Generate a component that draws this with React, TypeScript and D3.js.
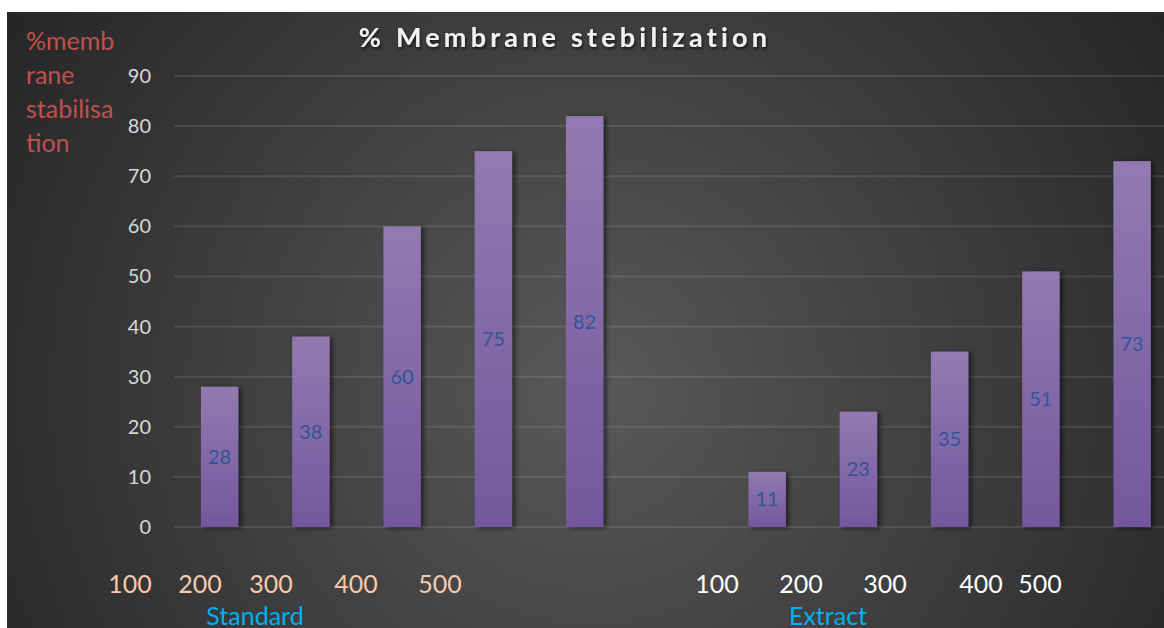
import React, { useEffect, useRef } from "react";
import * as d3 from "d3";

// chart values
const categories = ["S100", "S200", "S300", "S400", "S500", "gap", "E100", "E200", "E300", "E400", "E500"];
const standardValues = [28, 38, 60, 75, 82];
const extractValues = [11, 23, 35, 51, 73];
const yTicks = [0, 10, 20, 30, 40, 50, 60, 70, 80, 90];
const doseLabels = ["100", "200", "300", "400", "500"];
const groupLabels = ["Standard", "Extract"];
const yTitleLines = ["%memb", "rane", "stabilisa", "tion"];
const title = "% Membrane stebilization";

// where the loose text boxes sit under the plot (layout only)
const standardLabelX = [130, 200, 271, 356, 440];
const extractLabelX = [717, 801, 885, 981, 1040];
const groupLabelX = [255, 828];

const W = 1164;
const H = 628;
const FONT = "Lato, 'Open Sans', sans-serif";

const App = () => {
  const ref = useRef<SVGSVGElement>(null);

  useEffect(() => {
    const svg = d3.select(ref.current);
    svg.selectAll("*").remove();

    const left = 174;
    const step = 91.25;

    const x = d3
      .scaleBand()
      .domain(categories)
      .range([left, left + step * categories.length])
      .paddingInner(0.59)
      .paddingOuter(0.295);

    const y = d3.scaleLinear().domain([0, 90]).range([527, 76]);

    const defs = svg.append("defs");

    const bg = defs
      .append("radialGradient")
      .attr("id", "bg")
      .attr("gradientUnits", "userSpaceOnUse")
      .attr("cx", 590)
      .attr("cy", 390)
      .attr("r", 720);
    bg.append("stop").attr("offset", "0%").attr("stop-color", "#595959");
    bg.append("stop").attr("offset", "100%").attr("stop-color", "#242424");

    const barGrad = defs
      .append("linearGradient")
      .attr("id", "bar")
      .attr("x1", "0%")
      .attr("x2", "0%")
      .attr("y1", "0%")
      .attr("y2", "100%");
    barGrad.append("stop").attr("offset", "0%").attr("stop-color", "#927AB1");
    barGrad.append("stop").attr("offset", "100%").attr("stop-color", "#74579D");

    const shadow = defs
      .append("filter")
      .attr("id", "shadow")
      .attr("x", "-30%")
      .attr("y", "-10%")
      .attr("width", "160%")
      .attr("height", "120%");
    shadow
      .append("feDropShadow")
      .attr("dx", 3)
      .attr("dy", 1)
      .attr("stdDeviation", 2.5)
      .attr("flood-color", "#000")
      .attr("flood-opacity", 0.55);

    const titleShadow = defs.append("filter").attr("id", "tshadow");
    titleShadow
      .append("feDropShadow")
      .attr("dx", 1)
      .attr("dy", 2)
      .attr("stdDeviation", 1.5)
      .attr("flood-color", "#000")
      .attr("flood-opacity", 0.7);

    svg.append("rect").attr("width", W).attr("height", H).attr("fill", "#fff");
    svg
      .append("rect")
      .attr("x", 7)
      .attr("y", 12)
      .attr("width", W - 7)
      .attr("height", H - 12)
      .attr("fill", "url(#bg)");

    // gridlines
    svg
      .append("g")
      .selectAll("line")
      .data(yTicks)
      .join("line")
      .attr("x1", left)
      .attr("x2", W)
      .attr("y1", (d) => y(d))
      .attr("y2", (d) => y(d))
      .attr("stroke", "rgba(255,255,255,0.1)")
      .attr("stroke-width", 2);

    // y tick labels
    svg
      .append("g")
      .selectAll("text")
      .data(yTicks)
      .join("text")
      .attr("x", 151)
      .attr("y", (d) => y(d))
      .attr("dy", "0.35em")
      .attr("text-anchor", "end")
      .attr("font-family", FONT)
      .attr("font-size", 20)
      .attr("fill", "#d9d9d9")
      .text((d) => d);

    const bars = [
      ...standardValues.map((v, i) => ({ key: categories[i], value: v })),
      ...extractValues.map((v, i) => ({ key: categories[i + 6], value: v })),
    ];

    svg
      .append("g")
      .selectAll("rect")
      .data(bars)
      .join("rect")
      .attr("x", (d) => x(d.key)!)
      .attr("y", (d) => y(d.value))
      .attr("width", x.bandwidth())
      .attr("height", (d) => y(0) - y(d.value))
      .attr("fill", "url(#bar)")
      .attr("filter", "url(#shadow)");

    svg
      .append("g")
      .selectAll("text")
      .data(bars)
      .join("text")
      .attr("x", (d) => x(d.key)! + x.bandwidth() / 2)
      .attr("y", (d) => (y(d.value) + y(0)) / 2)
      .attr("dy", "0.35em")
      .attr("text-anchor", "middle")
      .attr("font-family", FONT)
      .attr("font-size", 20)
      .attr("fill", "#2F5597")
      .text((d) => d.value);

    // title
    svg
      .append("text")
      .attr("x", 565)
      .attr("y", 47)
      .attr("text-anchor", "middle")
      .attr("font-family", FONT)
      .attr("font-weight", "bold")
      .attr("font-size", 27)
      .attr("letter-spacing", 4.2)
      .attr("fill", "#f2f2f2")
      .attr("filter", "url(#tshadow)")
      .text(title);

    // y axis title
    svg
      .append("g")
      .selectAll("text")
      .data(yTitleLines)
      .join("text")
      .attr("x", 26)
      .attr("y", (_, i) => 50 + i * 34)
      .attr("font-family", FONT)
      .attr("font-size", 25)
      .attr("fill", "#C0504D")
      .text((d) => d);

    // dose labels under each group
    const doseRow = (xs: number[], color: string) =>
      svg
        .append("g")
        .selectAll("text")
        .data(doseLabels)
        .join("text")
        .attr("x", (_, i) => xs[i])
        .attr("y", 593)
        .attr("text-anchor", "middle")
        .attr("font-family", FONT)
        .attr("font-size", 25)
        .attr("fill", color)
        .text((d) => d);
    doseRow(standardLabelX, "#F8CBAD");
    doseRow(extractLabelX, "#ffffff");

    svg
      .append("g")
      .selectAll("text")
      .data(groupLabels)
      .join("text")
      .attr("x", (_, i) => groupLabelX[i])
      .attr("y", 625)
      .attr("text-anchor", "middle")
      .attr("font-family", FONT)
      .attr("font-size", 25)
      .attr("fill", "#00B0F0")
      .text((d) => d);
  }, []);

  return (
    <svg
      ref={ref}
      width={W}
      height={H}
      style={{ position: "absolute", left: 0, top: 0, display: "block" }}
    />
  );
};

export default App;
